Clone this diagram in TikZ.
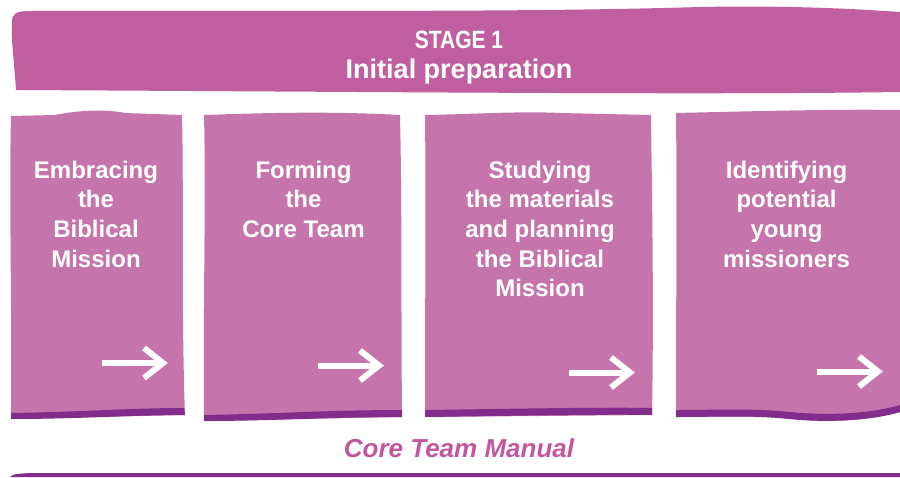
\documentclass[tikz,border=0pt]{standalone}
\usepackage{fontspec}
\setmainfont{Liberation Sans}
\usepackage{graphicx}
\definecolor{banner}{HTML}{BF5FA0}
\definecolor{boxfill}{HTML}{C574AC}
\definecolor{darkband}{HTML}{822C8C}
\definecolor{foot}{HTML}{C2569F}
\tikzset{
  boxtext/.style={text=white, font=\bfseries\fontsize{24}{29.7}\selectfont, align=center, anchor=base, inner sep=0pt},
  warrow/.pic={
    \draw[white, line width=6pt] (-65,0) -- (-3,0);
    \draw[white, line width=6pt, line join=miter, miter limit=10] (-23,-15) -- (-4,0) -- (-23,15);
  }
}
\begin{document}
\begin{tikzpicture}[x=1pt, y=-1pt]
\useasboundingbox (0,0) rectangle (900,477);
% banner
\fill[banner] (12,22) .. controls (12,13) and (16,11) .. (32,11)
  .. controls (250,10) and (500,13) .. (700,7)
  .. controls (800,5) and (870,10) .. (900,12)
  -- (900,92) .. controls (700,95) and (400,92) .. (16,90)
  .. controls (14,60) and (11,40) .. (12,22) -- cycle;
\node[text=white, font=\bfseries\fontsize{25}{25}\selectfont, anchor=base, inner sep=0pt] (stage) at (459,48) {\scalebox{0.84}[1]{STAGE 1}};
\node[text=white, font=\bfseries\fontsize{27}{27}\selectfont, anchor=base, inner sep=0pt] (title) at (459,78) {Initial preparation};
% box 1
\fill[boxfill] (11,116) -- (55,115) .. controls (80,110) and (105,109) .. (125,113) -- (182,115)
  .. controls (184,200) and (181,300) .. (185,415) -- (11,419) .. controls (12,300) and (9,200) .. (11,116) -- cycle;
\fill[darkband] (11,413) .. controls (80,412) and (130,408) .. (184,408) -- (185,415) .. controls (130,415) and (80,419) .. (11,419) -- cycle;
% box 2
\fill[boxfill] (204,115) .. controls (260,113) and (330,111) .. (400,115)
  .. controls (402,200) and (401,300) .. (402,417) -- (204,421) .. controls (203,300) and (206,200) .. (204,115) -- cycle;
\fill[darkband] (204,415) .. controls (270,414) and (330,410) .. (402,410) -- (402,417) .. controls (330,417) and (270,421) .. (204,421) -- cycle;
% box 3
\fill[boxfill] (425,115) .. controls (480,114) and (520,111) .. (560,113) -- (651,115)
  .. controls (652,200) and (654,300) .. (652,415) -- (425,417) .. controls (425,300) and (426,200) .. (425,115) -- cycle;
\fill[darkband] (425,410) .. controls (500,409) and (600,407) .. (652,408) -- (652,415) .. controls (600,414) and (500,416) .. (425,417) -- cycle;
% box 4
\fill[boxfill] (676,113) .. controls (760,111) and (840,109) .. (900,110)
  -- (900,412) .. controls (880,418) and (840,424) .. (790,419) .. controls (750,415) and (720,417) .. (676,417)
  .. controls (676,300) and (677,200) .. (676,113) -- cycle;
\fill[darkband] (676,410) .. controls (720,410) and (750,408) .. (790,412) .. controls (840,417) and (880,411) .. (900,405)
  -- (900,412) .. controls (880,418) and (840,424) .. (790,419) .. controls (750,415) and (720,417) .. (676,417) -- cycle;
% box texts (anchor base = baseline of last line)
\node[boxtext] (t1) at (96,267.1) {Embracing\\the\\Biblical\\Mission};
\node[boxtext] (t2) at (303.5,237.4) {Forming\\the\\Core Team};
\node[boxtext] (t3) at (540,296.8) {Studying\\the materials\\and planning\\the Biblical\\Mission};
\node[boxtext] (t4) at (786.5,267.1) {Identifying\\potential\\young\\missioners};
% arrows
\pic at (167,363) {warrow};
\pic at (383,365.5) {warrow};
\pic at (634,372.5) {warrow};
\pic at (882,371.5) {warrow};
% footer
\node[text=foot, font=\bfseries\itshape\fontsize{26}{26}\selectfont, anchor=base, inner sep=0pt] (footer) at (459,457) {Core Team Manual};
\fill[darkband] (10,477) .. controls (12,474) and (20,473) .. (40,473) -- (900,473) -- (900,477) -- cycle;
\end{tikzpicture}
\end{document}
